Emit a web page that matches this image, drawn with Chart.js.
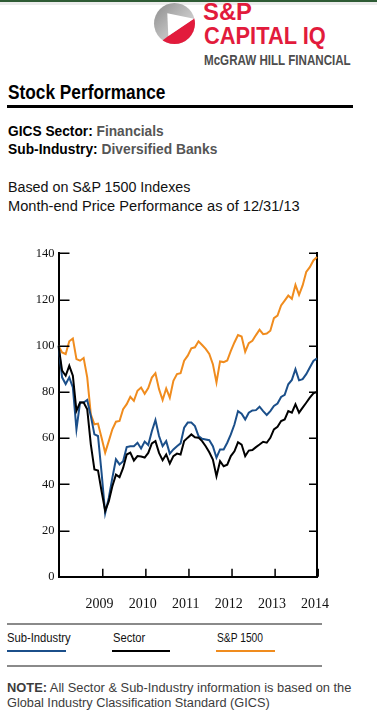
<!DOCTYPE html>
<html>
<head>
<meta charset="utf-8">
<script src="https://cdn.jsdelivr.net/npm/chart.js@4/dist/chart.umd.min.js"></script>
<style>
  html, body { margin:0; padding:0; background:#fff; }
  body { width:377px; height:723px; position:relative; overflow:hidden; }
  .t { position:absolute; white-space:nowrap; line-height:1; transform-origin:0 0; display:inline-block;
       font-family:"Liberation Sans Narrow","Arial Narrow","Liberation Sans",Arial,sans-serif; }
  .b { font-weight:bold; }
</style>
</head>
<body>
<div style="position:absolute;left:0;top:0;width:377px;height:2px;background:#2e5b34;"></div>
<div style="position:absolute;left:0;top:2px;width:377px;height:3px;background:#ececec;"></div>

<svg style="position:absolute;left:0;top:0" width="200" height="50">
  <defs>
    <linearGradient id="g1" x1="0" y1="0" x2="1" y2="1">
      <stop offset="0" stop-color="#8c8c8c"/>
      <stop offset="0.5" stop-color="#bdbdbd"/>
      <stop offset="1" stop-color="#e6e6e6"/>
    </linearGradient>
    <clipPath id="cc"><circle cx="174.5" cy="23.5" r="20.5"/></clipPath>
  </defs>
  <circle cx="174.5" cy="23.5" r="20.5" fill="url(#g1)"/>
  <polygon clip-path="url(#cc)" points="168.3,36 194.5,18 200,50 150,50" fill="#e21b3c"/>
  <polygon points="167.3,13.3 168.3,36 194,18.8" fill="#ffffff"/>
</svg>
<span class="t b" data-w="49" style="left:203.3px;top:0.2px;font-size:24px;color:#e21b3c;">S&amp;P</span>
<span class="t b" data-w="121.7" style="left:204px;top:23.6px;font-size:24px;color:#e21b3c;">CAPITAL IQ</span>
<span class="t b" data-w="146.7" style="left:204px;top:53.2px;font-size:14px;color:#4d4d4d;">McGRAW HILL FINANCIAL</span>

<span class="t b" data-w="157.4" style="left:8.3px;top:82.4px;font-size:20px;color:#000;">Stock Performance</span>
<div style="position:absolute;left:7.3px;top:105px;width:345.4px;height:3px;background:#000;"></div>

<span class="t b" data-w="155.7" style="left:8.3px;top:123px;font-size:15px;color:#000;">GICS Sector: <span style="color:#555;">Financials</span></span>
<span class="t b" data-w="209.4" style="left:8.3px;top:140.7px;font-size:15px;color:#000;">Sub-Industry: <span style="color:#555;">Diversified Banks</span></span>

<span class="t" data-w="182.4" style="left:8.3px;top:179.9px;font-size:14px;color:#111;">Based on S&amp;P 1500 Indexes</span>
<span class="t" data-w="291.7" style="left:8.3px;top:198.9px;font-size:14px;color:#111;">Month-end Price Performance as of 12/31/13</span>

<div style="position:absolute;left:0;top:240px;width:350px;height:380px;">
  <canvas id="c" width="350" height="380" style="width:350px;height:380px;"></canvas>
</div>

<div style="position:absolute;left:7px;top:623px;width:315px;height:2px;background:#8a8a8a;"></div>
<span class="t" data-w="63.7" style="left:7.3px;top:631.7px;font-size:12px;color:#111;">Sub-Industry</span>
<span class="t" data-w="32.3" style="left:112.7px;top:631.7px;font-size:12px;color:#111;">Sector</span>
<span class="t" data-w="46" style="left:217.3px;top:631.7px;font-size:12px;color:#111;">S&amp;P 1500</span>
<div style="position:absolute;left:7px;top:650px;width:59px;height:2.3px;background:#1b4f8a;"></div>
<div style="position:absolute;left:112px;top:650px;width:58px;height:2.3px;background:#000;"></div>
<div style="position:absolute;left:216px;top:650px;width:59px;height:2.3px;background:#f08c1e;"></div>
<div style="position:absolute;left:7px;top:665px;width:315px;height:2px;background:#8a8a8a;"></div>

<span class="t" data-w="344.4" style="left:7.3px;top:682.4px;font-size:12.5px;color:#3c3c3c;"><b>NOTE:</b> All Sector &amp; Sub-Industry information is based on the</span>
<span class="t" data-w="262.7" style="left:7.3px;top:696.7px;font-size:12.5px;color:#3c3c3c;">Global Industry Classification Standard (GICS)</span>

<script>
// fit text widths
document.querySelectorAll('.t[data-w]').forEach(el => {
  const w = el.getBoundingClientRect().width;
  const target = parseFloat(el.dataset.w);
  if (w > 0) el.style.transform = 'scaleX(' + (target / w) + ')';
});

const months = [
  'Dec 07',
  'Jan 08','Feb 08','Mar 08','Apr 08','May 08','Jun 08','Jul 08','Aug 08','Sep 08','Oct 08','Nov 08','Dec 08',
  'Jan 09','Feb 09','Mar 09','Apr 09','May 09','Jun 09','Jul 09','Aug 09','Sep 09','Oct 09','Nov 09','Dec 09',
  'Jan 10','Feb 10','Mar 10','Apr 10','May 10','Jun 10','Jul 10','Aug 10','Sep 10','Oct 10','Nov 10','Dec 10',
  'Jan 11','Feb 11','Mar 11','Apr 11','May 11','Jun 11','Jul 11','Aug 11','Sep 11','Oct 11','Nov 11','Dec 11',
  'Jan 12','Feb 12','Mar 12','Apr 12','May 12','Jun 12','Jul 12','Aug 12','Sep 12','Oct 12','Nov 12','Dec 12',
  'Jan 13','Feb 13','Mar 13','Apr 13','May 13','Jun 13','Jul 13','Aug 13','Sep 13','Oct 13','Nov 13','Dec 13'
];
const yearTickMonths = ['Dec 08','Dec 09','Dec 10','Dec 11','Dec 12','Dec 13'];
const yearLabels = ['2009','2010','2011','2012','2013','2014'];
const yTickValues = [20,40,60,80,100,120,140];

const subIndustry = [100,
  86.3,83.4,86.3,81.9,63.8,75.4,75.4,76.5,69.6,61.6,60.9,45,
  27.5,34.1,42.8,50.8,48.6,50,56.1,56.5,56.5,58,55.5,58.5,
  57,63,67.8,60.9,56.5,58.7,53.3,55.1,56.5,57.7,64.5,66.7,
  66.7,65.2,60.9,59.7,59.4,59.1,56.5,51.5,55.1,55.1,58,61.6,
  65.9,71.7,70.6,68.1,71,72,72.1,73.6,71.7,70,71.7,73.9,
  75,77.8,78.7,83.3,85.2,89.8,85,85.5,87.7,90.6,93.4,94.5];
const sector = [100,
  89.2,87,91.3,87,71.8,75.4,75.4,72.5,57.3,46.4,46,37,
  28.5,32.6,39.2,44.2,43.1,47.1,52.9,53.7,50.3,52.2,52,51.6,
  53.6,57.7,58.7,53.6,50.4,52.9,49,52.2,53.3,52.9,58.7,60.2,
  61.6,60.4,60.2,58.7,56.5,53.9,50.7,43.5,50,47.8,48.5,52.2,
  54.3,58.2,57.2,52.2,54.6,54.8,56.1,57.2,58.4,58,60.1,63.8,
  64.9,67.4,68.1,71.7,71,74.6,71,73.2,75.3,77.5,79.4,80];
const sp1500 = [100,
  97.1,96.4,101.9,103.1,94.2,93.5,94.7,86.3,70.3,66,66.3,60.2,
  53.7,58.7,63.8,67.1,67.4,72.5,74.7,77.9,76.1,80.5,81.9,79.2,
  81.7,86.2,88.1,81.2,76.5,81.5,77.5,84.8,87.7,88.1,93.5,95.7,
  98.9,99.3,101.9,100.3,98.6,96.4,92,84.1,93.2,92.9,93.6,97.8,
  101.4,104.6,104,97.4,101.1,102.1,104.6,106.9,105,105.3,106.5,111.9,
  113,117.4,119.5,121.7,120.3,126.3,122,126.1,131.9,134,136.9,138.4];

const inTicks = {
  id: 'inTicks',
  afterDatasetsDraw(chart) {
    const { ctx, chartArea: a, scales: { x, y } } = chart;
    ctx.save();
    ctx.strokeStyle = '#000';
    ctx.lineWidth = 1.5;
    ctx.beginPath();
    yTickValues.forEach(v => {
      const py = Math.round(y.getPixelForValue(v)) + 0.25;
      ctx.moveTo(a.left, py); ctx.lineTo(a.left + 11, py);
      ctx.moveTo(a.right, py); ctx.lineTo(a.right - 8, py);
    });
    yearTickMonths.forEach((m, k) => {
      let px = x.getPixelForValue(months.indexOf(m)) + 1.2;
      ctx.moveTo(px, a.bottom); ctx.lineTo(px, a.bottom - 8);
    });
    ctx.stroke();
    ctx.restore();
  }
};

new Chart(document.getElementById('c'), {
  type: 'line',
  data: {
    labels: months,
    datasets: [
      { label: 'Sector', data: sector, borderColor: '#000000' },
      { label: 'Sub-Industry', data: subIndustry, borderColor: '#1b4f8a' },
      { label: 'S&P 1500', data: sp1500, borderColor: '#f08c1e' }
    ]
  },
  options: {
    responsive: false,
    animation: false,
    devicePixelRatio: 1,
    layout: { padding: { top: 13.3, right: 16.8, left: 0, bottom: 0 } },
    plugins: { legend: { display: false }, tooltip: { enabled: false } },
    elements: { point: { radius: 0 }, line: { borderWidth: 2, tension: 0, fill: false } },
    scales: {
      x: {
        type: 'category',
        offset: false,
        grid: { display: false, drawTicks: false },
        border: { display: true, color: '#000', width: 2 },
        ticks: {
          autoSkip: false, maxRotation: 0, minRotation: 0, padding: 19, labelOffset: -2,
          font: { family: '"Liberation Serif", "DejaVu Serif", serif', size: 14 }, color: '#111',
          callback: function(v, i) {
            const k = yearTickMonths.indexOf(months[i]);
            return k >= 0 ? yearLabels[k] : '';
          }
        },
        afterFit: s => { s.height = 43.3; }
      },
      y: {
        min: 0, max: 140,
        grid: { display: false, drawTicks: false },
        border: { display: true, color: '#000', width: 2 },
        ticks: { stepSize: 20, padding: 4, font: { family: '"Liberation Serif", "DejaVu Serif", serif', size: 12.5 }, color: '#111' },
        afterFit: s => { s.width = 58.5; }
      },
      y2: {
        position: 'right',
        min: 0, max: 140,
        grid: { display: false, drawTicks: false },
        border: { display: true, color: '#000', width: 2 },
        ticks: { display: false },
        afterFit: s => { s.width = 0; }
      }
    }
  },
  plugins: [inTicks]
});
</script>
</body>
</html>
